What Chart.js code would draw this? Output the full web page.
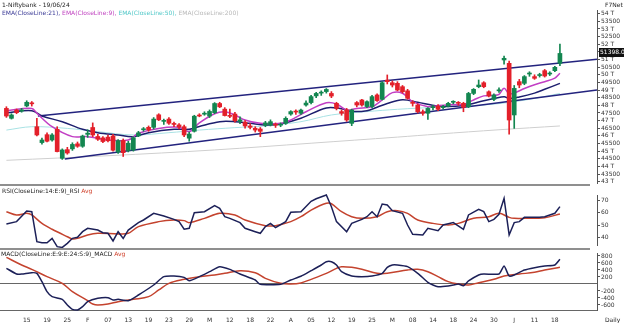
<!DOCTYPE html>
<html>
<head>
<meta charset="utf-8">
<script src="https://cdn.jsdelivr.net/npm/chart.js@4.4.1/dist/chart.umd.min.js"></script>
<style>
  body { margin: 0; background: #fff; }
  #wrap { position: relative; width: 624px; height: 323px; overflow: hidden; font-family: "DejaVu Sans", sans-serif; }
  canvas { position: absolute; left: 0; }
  .txt { position: absolute; white-space: nowrap; font-size: 6px; line-height: 7px; color: #222; }
  .rule { position: absolute; left: 0; width: 590px; background: #8f8f8f; }
</style>
</head>
<body>
<div id="wrap">
  <canvas id="price" width="624" height="186" style="top:0"></canvas>
  <canvas id="rsi" width="624" height="63" style="top:186px"></canvas>
  <canvas id="macd" width="624" height="74" style="top:249px"></canvas>

  <div class="rule" style="top:184px;height:2px"></div>
  <div class="rule" style="top:248px;height:2px"></div>

  <div class="txt" style="left:2px;top:1px">1-Niftybank - 19/06/24</div>
  <div class="txt" style="left:2px;top:9px">
    <span style="color:#3a3a96">EMA(CloseLine:21),</span>
    <span style="color:#c043c0">EMA(CloseLine:9),</span>
    <span style="color:#52c8c8">EMA(CloseLine:50),</span>
    <span style="color:#b8b8b8">EMA(CloseLine:200)</span>
  </div>
  <div class="txt" style="left:605px;top:1px">F7Net</div>
  <div class="txt" style="left:2px;top:187px">RSI(CloseLine:14:E:9)_RSI <span style="color:#d0402a">Avg</span></div>
  <div class="txt" style="left:1px;top:250px">MACD(CloseLine:E:9:E:24:S:9)_MACD <span style="color:#d0402a">Avg</span></div>
  <div class="txt" style="left:605px;top:316px">Daily</div>
</div>

<script>
// daily candles, 09 Jan 2024 .. 19 Jun 2024 (bar index 0..109)
const open = [
  47800, 47150, 47690, 47630, 47960, 48150, 46600, 45560, 46080, 45730,
  46430, 44530, 45100, 45150, 45480, 45320, 46100, 46550, 45960, 45870,
  45920, 45990, 44950, 45700, 45040, 45080, 46000, 46400, 46560, 46560,
  47380, 46950, 47100, 46780, 46720, 46600, 45850, 46300, 47330, 47420,
  47300, 47520, 48120, 47750, 47330, 47430, 46950, 46900, 46650, 46500,
  46450, 46700, 46720, 46720, 46700, 46820, 47430, 47580, 47480, 48020,
  48180, 48620, 48800, 48900, 48780, 48130, 47590, 47700, 46820, 48180,
  48350, 47920, 47920, 48680, 48390, 49650, 49480, 49440, 49220, 48950,
  48150, 48020, 47580, 47480, 47850, 47950, 47850, 47950, 48200, 48150,
  48130, 47910, 48780, 49220, 49480, 48890, 48390, 48950, 50970, 50750,
  47370, 49550, 49440, 50050, 49880, 49950, 50270, 50050, 50270, 50750
];
const high = [
  47910, 47450, 47760, 47800, 48300, 48250, 47150, 45850, 46200, 46150,
  46600, 45150, 45250, 45550, 45600, 46050, 46400, 46850, 46100, 45950,
  46050, 46100, 45750, 45800, 45650, 45950, 46300, 46550, 46650, 47200,
  47450, 47100, 47200, 46900, 46800, 46700, 46250, 47350, 47450, 47580,
  47700, 48180, 48200, 47850, 47750, 47550, 47250, 47000, 46800, 46600,
  46550, 46950, 47050, 46850, 46850, 47250, 47650, 47700, 47750, 48300,
  48650, 48850, 48950, 49100, 48900, 48200, 47700, 47800, 47750, 48250,
  48400, 48300, 48650, 48750, 49550, 49990, 49600, 49550, 49300, 49050,
  48300, 48100, 47700, 47850, 48000, 48050, 48000, 48200, 48300, 48250,
  48200, 48850, 49100, 49660, 49550, 48950, 48750, 49150, 51230, 50900,
  49300, 49700, 49950, 50200, 50000, 50100, 50350, 50200, 50550, 52010
];
const low = [
  47210, 47100, 47450, 47550, 47900, 47950, 45990, 45450, 45600, 45650,
  44950, 44460, 44800, 45050, 45250, 45250, 45900, 45950, 45700, 45550,
  45600, 45000, 44850, 44650, 44950, 45000, 45950, 46300, 46300, 46450,
  47000, 46750, 46750, 46600, 46450, 45950, 45650, 46250, 47250, 47350,
  47200, 47450, 47850, 47300, 47200, 46900, 46800, 46500, 46450, 46250,
  45950, 46600, 46650, 46550, 46600, 46750, 47350, 47400, 47400, 47950,
  48100, 48500, 48650, 48800, 48500, 47700, 47350, 46950, 46670, 47900,
  47950, 47850, 47850, 48250, 48350, 49400, 49200, 48950, 48800, 48400,
  47950, 47500, 47350, 47080, 47700, 47650, 47750, 47900, 48100, 48000,
  47580, 47850, 48700, 49150, 49150, 48550, 48300, 48850, 50700, 46120,
  46490, 49150, 49350, 49900, 49700, 49850, 49850, 49950, 50200, 50600
];
const close = [
  47300, 47370, 47520, 47700, 48200, 48100, 46060, 45730, 45650, 46060,
  44970, 45080, 44880, 45440, 45320, 45990, 46180, 46060, 45780, 45630,
  45680, 45060, 45690, 44900, 45520, 45880, 46200, 46450, 46390, 47100,
  47050, 46980, 46830, 46750, 46580, 46060, 46120, 47290, 47300, 47460,
  47600, 48120, 47900, 47330, 47280, 46990, 47050, 46650, 46560, 46380,
  46300, 46850, 46930, 46700, 46760, 47150, 47590, 47560, 47690, 48150,
  48570, 48780, 48830, 49040, 48610, 47800, 47480, 47040, 47690, 48020,
  48020, 48240, 48570, 48310, 49480, 49550, 49330, 49000, 48890, 48460,
  48130, 47580, 47480, 47800, 47880, 47740, 47900, 48130, 48240, 48130,
  47870, 48780, 49050, 49330, 49220, 48610, 48680, 49000, 51080, 47040,
  49110, 49330, 49880, 50100, 49770, 49990, 49920, 50100, 50490, 51398
];

// moving averages, read at the bars listed with them
const ema9Bars = [0, 5, 6, 9, 13, 16, 20, 24, 26, 30, 34, 36, 38, 41, 43, 45, 47, 50, 54, 56, 59, 63, 65, 67, 69, 72, 74, 76, 78, 80, 83, 85, 88, 90, 91, 92, 94, 96, 97, 98, 99, 100, 102, 104, 106, 108, 109];
const ema9 = [47650, 47800, 47480, 46600, 45950, 45950, 45730, 45730, 46170, 46490, 46560, 46280, 46850, 47450, 47580, 47370, 47040, 46820, 46820, 47040, 47580, 48170, 48090, 47690, 47800, 47910, 48350, 48830, 48790, 48240, 47910, 47980, 48050, 48050, 48200, 48350, 48620, 48650, 48720, 49120, 48750, 48800, 49100, 49350, 49550, 49780, 50100];

const ema21Bars = [0, 5, 7, 11, 15, 18, 22, 25, 28, 33, 36, 38, 42, 45, 48, 51, 54, 58, 63, 66, 68, 71, 73, 75, 78, 81, 85, 90, 94, 98, 99, 101, 104, 106, 109];
const ema21 = [47520, 47650, 47300, 46930, 46430, 46210, 46060, 45950, 46210, 46430, 46430, 46620, 46930, 46930, 46820, 46710, 46780, 47150, 47830, 47780, 47600, 47650, 47880, 48120, 48370, 48200, 47950, 47990, 48300, 48560, 48450, 48550, 48800, 49050, 49440];

const ema50Bars = [0, 5, 12, 18, 25, 32, 38, 45, 51, 58, 64, 71, 77, 85, 92, 98, 104, 109];
const ema50 = [46380, 46600, 46490, 46280, 46060, 46210, 46380, 46540, 46650, 46930, 47370, 47590, 47740, 47880, 47980, 48150, 48450, 48780];

const ema200Bars = [0, 20, 41, 60, 77, 85, 97, 109];
const ema200 = [44400, 44700, 45080, 45520, 45920, 46120, 46400, 46650];

// trend channel end points
const upperBars = [6.2, 116.3];
const upperLine = [47300, 51010];
const lowerBars = [11.5, 116.3];
const lowerLine = [44490, 49000];

// RSI(14) and its average
const rsiBars = [0, 2, 4, 5, 6, 7, 8, 9, 10, 11, 12, 13, 14, 15, 16, 18, 19, 20, 21, 22, 23, 24, 26, 27, 29, 31, 33, 34, 35, 36, 37, 39, 41, 42, 43, 44, 46, 47, 49, 50, 51, 52, 53, 55, 56, 58, 60, 61, 63, 64, 65, 67, 68, 70, 71, 72, 73, 74, 75, 76, 78, 79, 80, 82, 83, 85, 86, 88, 90, 91, 93, 94, 95, 96, 97, 98, 99, 100, 101, 102, 105, 106, 108, 109];
const rsi = [50.9, 52.8, 61.2, 60.7, 36.8, 36.0, 36.0, 39.5, 32.9, 32.3, 35.5, 39.5, 40.3, 44.8, 47.5, 46.1, 44.0, 43.5, 37.4, 44.8, 39.5, 46.1, 52.0, 54.1, 59.4, 57.3, 54.6, 52.8, 46.7, 47.5, 59.9, 60.7, 65.5, 63.4, 56.7, 55.4, 52.0, 47.5, 44.8, 43.5, 48.8, 51.4, 48.0, 52.8, 60.2, 60.7, 69.0, 71.0, 74.0, 64.7, 52.8, 44.8, 51.4, 54.6, 56.7, 60.7, 56.7, 66.8, 66.0, 61.5, 59.4, 50.1, 42.7, 42.2, 47.5, 45.6, 50.1, 52.0, 46.7, 58.1, 62.6, 60.7, 52.8, 54.6, 58.6, 71.3, 42.2, 52.0, 52.8, 56.2, 56.2, 56.7, 59.4, 64.7];
const rsiAvgBars = [0, 2, 4, 5, 7, 9, 12, 13, 14, 16, 18, 22, 24, 26, 30, 33, 35, 36, 39, 42, 45, 47, 51, 53, 56, 58, 60, 63, 64, 66, 68, 70, 73, 75, 77, 79, 81, 84, 87, 89, 92, 95, 97, 99, 100, 102, 106, 109];
const rsiAvg = [60.7, 58.1, 59.4, 58.1, 51.4, 46.7, 40.8, 39.0, 39.5, 42.2, 43.5, 43.0, 43.5, 48.8, 52.8, 54.1, 53.6, 52.0, 55.4, 59.4, 58.1, 54.1, 49.6, 49.6, 52.8, 56.7, 62.0, 67.4, 67.0, 60.7, 56.7, 55.4, 56.7, 60.7, 61.5, 59.4, 54.1, 51.4, 50.1, 51.4, 55.4, 56.7, 59.4, 56.2, 55.4, 55.4, 55.9, 58.9];

// MACD(9,24,9) and signal
const macdBars = [0, 2, 3, 5, 6, 7, 8, 9, 11, 12, 13, 14, 15, 16, 18, 20, 21, 22, 24, 26, 29, 31, 33, 35, 36, 38, 40, 42, 44, 46, 49, 50, 54, 56, 58, 60, 62, 63, 64, 65, 66, 68, 70, 72, 74, 75, 76, 77, 79, 81, 83, 84, 85, 87, 88, 89, 90, 91, 93, 94, 97, 98, 99, 100, 102, 104, 106, 108, 109];
const macd = [448, 286, 286, 324, 305, 67, -219, -362, -438, -600, -724, -743, -648, -505, -410, -390, -457, -438, -476, -314, -29, 210, 229, 190, 95, 210, 352, 495, 419, 286, 114, -10, -10, 114, 220, 380, 543, 638, 638, 543, 352, 229, 210, 229, 305, 476, 543, 543, 495, 305, 48, -29, -76, -57, -29, 0, -48, 86, 257, 286, 286, 514, 229, 257, 400, 467, 514, 543, 705];
const signalBars = [0, 3, 5, 8, 11, 13, 16, 17, 18, 20, 22, 25, 28, 30, 32, 35, 38, 41, 43, 46, 49, 51, 54, 56, 58, 60, 63, 65, 66, 68, 70, 73, 75, 79, 81, 83, 85, 87, 89, 91, 93, 96, 98, 101, 104, 106, 109];
const signal = [762, 543, 419, 210, 19, -219, -476, -571, -600, -571, -505, -438, -362, -171, 19, 133, 210, 257, 305, 381, 324, 162, 19, 0, 30, 133, 305, 448, 495, 476, 419, 305, 305, 400, 419, 352, 210, 67, 0, -29, 38, 133, 229, 286, 333, 400, 476];

// axis ticks
const priceTicks = [43000, 43500, 44000, 44500, 45000, 45500, 46000, 46500, 47000, 47500, 48000, 48500, 49000, 49500, 50000, 50500, 51000, 51500, 52000, 52500, 53000, 53500, 54000];
const rsiTicks = [40, 50, 60, 70];
const macdTicks = [-600, -400, -200, 0, 200, 400, 600, 800];
const tickBars = [4, 8, 12, 16, 20, 24, 28, 32, 36, 40, 44, 48, 52, 56, 60, 64, 68, 72, 76, 80, 84, 88, 92, 96, 100, 104, 108];
const tickLabels = ['15', '19', '25', 'F', '07', '13', '19', '23', '29', 'M', '12', '18', '22', 'A', '05', '12', '19', '25', 'M', '08', '14', '18', '24', '30', 'J', '11', '18'];

const GREEN = '#138650', RED = '#e3202a', NAVY = '#1c2058', SIG = '#c4432e';
const FONT = { family: 'DejaVu Sans', size: 6 };
const pts = (xs, ys) => xs.map((x, i) => ({ x, y: ys[i] }));
const bars = close.map((c, i) => i);
const candleCol = bars.map(i => close[i] >= open[i] ? GREEN : RED);

const xScale = (show) => ({
  type: 'linear', min: -1.26, max: 116.3, offset: false,
  display: show,
  afterBuildTicks: s => { s.ticks = tickBars.map(v => ({ value: v })); },
  afterFit: s => { if (show) { s.height = 13; s.paddingLeft = 0; s.paddingRight = 0; } },
  ticks: {
    autoSkip: false, maxRotation: 0, padding: 7, font: FONT, color: '#333',
    callback: v => tickLabels[tickBars.indexOf(v)]
  },
  grid: { display: false, drawTicks: false },
  border: { display: show, color: '#666' }
});

const yScale = (min, max, list, fmt, extra) => Object.assign({
  position: 'right', min, max, beginAtZero: false,
  afterBuildTicks: s => { s.ticks = list.map(v => ({ value: v })); },
  afterFit: s => { s.width = 27; s.paddingTop = 0; s.paddingBottom = 0; },
  ticks: { autoSkip: false, padding: 1, font: FONT, color: '#333', callback: fmt },
  grid: { drawOnChartArea: false, tickLength: 3, color: '#555' },
  border: { display: true, color: '#555' }
}, extra || {});

const base = {
  responsive: false, animation: false, events: [],
  plugins: { legend: { display: false }, tooltip: { enabled: false } }
};

const line = (data, color, width, order, tension) => ({
  type: 'line', data, borderColor: color, borderWidth: width, pointRadius: 0,
  tension: tension || 0, order, clip: false
});

// last close tag on the price scale
const lastTag = {
  id: 'lastTag',
  afterDraw(chart) {
    const v = close[close.length - 1];
    const y = chart.scales.y.getPixelForValue(v);
    const x = chart.chartArea.right + 2;
    const ctx = chart.ctx;
    ctx.save();
    ctx.fillStyle = '#111';
    ctx.fillRect(x, Math.round(y) - 5, 26, 9);
    ctx.fillStyle = '#fff';
    ctx.font = '6px "DejaVu Sans"';
    ctx.textBaseline = 'middle';
    ctx.fillText(v.toFixed(1), x + 1, Math.round(y) - 0.5);
    ctx.restore();
  }
};

new Chart(document.getElementById('price'), {
  type: 'bar',
  data: {
    datasets: [
      {
        data: pts(bars, bars.map(i => [open[i], close[i]])),
        backgroundColor: candleCol, barThickness: 4, minBarLength: 1,
        grouped: false, order: 0
      },
      {
        data: pts(bars, bars.map(i => [low[i], high[i]])),
        backgroundColor: candleCol, barThickness: 1,
        grouped: false, order: 1
      },
      line(pts(ema9Bars, ema9), '#c23fc4', 1.5, 2, 0.35),
      line(pts(ema21Bars, ema21), '#1d1f6e', 1.5, 3, 0.35),
      line(pts(upperBars, upperLine), '#23237e', 1.5, 4),
      line(pts(lowerBars, lowerLine), '#23237e', 1.5, 4),
      line(pts(ema50Bars, ema50), '#a8e2e4', 1, 5, 0.35),
      line(pts(ema200Bars, ema200), '#cfcfcf', 1, 6, 0.35)
    ]
  },
  options: Object.assign({}, base, {
    layout: { padding: { top: 10, bottom: 3, left: 0, right: 0 } },
    scales: {
      x: xScale(false),
      y: yScale(42915, 54242, priceTicks, v => v % 1000 === 0 ? (v / 1000) + ' T' : String(v))
    }
  }),
  plugins: [lastTag]
});

new Chart(document.getElementById('rsi'), {
  type: 'line',
  data: {
    datasets: [
      line(pts(rsiBars, rsi), NAVY, 1.5, 0),
      line(pts(rsiAvgBars, rsiAvg), SIG, 1.5, 1, 0.35)
    ]
  },
  options: Object.assign({}, base, {
    layout: { padding: { top: 9, bottom: 4, left: 0, right: 0 } },
    scales: {
      x: xScale(false),
      y: yScale(34.2, 73.98, rsiTicks, v => String(v))
    }
  })
});

new Chart(document.getElementById('macd'), {
  type: 'line',
  data: {
    datasets: [
      line(pts(macdBars, macd), NAVY, 1.5, 0, 0.2),
      line(pts(signalBars, signal), SIG, 1.5, 1, 0.35)
    ]
  },
  options: Object.assign({}, base, {
    layout: { padding: { top: 4, bottom: 0, left: 0, right: 0 } },
    scales: {
      x: xScale(true),
      y: yScale(-742.9, 885.7, macdTicks, v => v === 0 ? '' : String(v), {
        grid: {
          drawOnChartArea: true, tickLength: 3,
          color: c => c.tick && c.tick.value === 0 ? '#666' : 'rgba(0,0,0,0)',
          tickColor: c => c.tick && c.tick.value === 0 ? 'rgba(0,0,0,0)' : '#555'
        }
      })
    }
  })
});
</script>
</body>
</html>
